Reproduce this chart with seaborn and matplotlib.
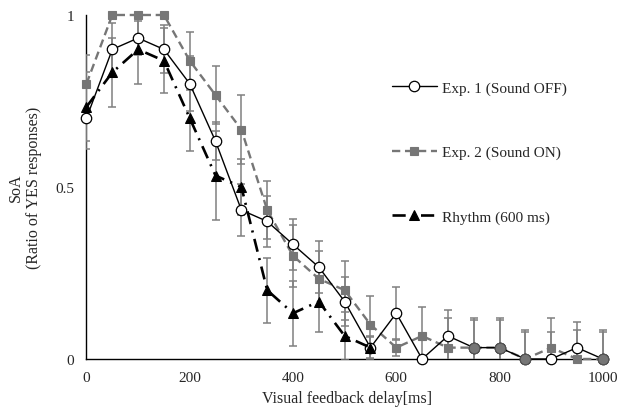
import matplotlib
matplotlib.use("Agg")
import matplotlib.pyplot as plt
import numpy as np
import pandas as pd
import seaborn as sns

# Data
delay = [0, 50, 100, 150, 200, 250, 300, 350, 400, 450, 500,
         550, 600, 650, 700, 750, 800, 850, 900, 950, 1000]
exp1 = [0.70, 0.90, 0.933, 0.90, 0.80, 0.633, 0.433, 0.40, 0.333, 0.267, 0.167,
        0.033, 0.133, 0.0, 0.067, 0.033, 0.033, 0.0, 0.0, 0.033, 0.0]
exp1_err = [0.09, 0.076, 0.05, 0.07, 0.08, 0.055, 0.075, 0.075, 0.075, 0.076, 0.07,
            0.033, 0.077, 0.0, 0.075, 0.08, 0.08, 0.078, 0.078, 0.075, 0.078]
exp2 = [0.80, 1.0, 1.0, 1.0, 0.867, 0.767, 0.667, 0.433, 0.30, 0.233, 0.20,
        0.10, 0.033, 0.067, 0.033, 0.033, 0.033, 0.0, 0.033, 0.0, 0.0]
exp2_err = [0.085, 0.0, 0.0, 0.0, 0.085, 0.085, 0.10, 0.085, 0.09, 0.08, 0.086,
            0.084, 0.025, 0.085, 0.086, 0.085, 0.085, 0.084, 0.085, 0.084, 0.084]
rhythm_delay = [0, 50, 100, 150, 200, 250, 300, 350, 400, 450, 500, 550]
rhythm = [0.733, 0.833, 0.90, 0.867, 0.70, 0.533, 0.50, 0.20, 0.133, 0.167, 0.067, 0.033]
rhythm_err = [0.10, 0.10, 0.10, 0.095, 0.095, 0.13, 0.08, 0.095, 0.095, 0.09, 0.07, 0.03]

labels = ["Exp. 1 (Sound OFF)", "Exp. 2 (Sound ON)", "Rhythm (600 ms)"]

sns.set_theme(style="white")
plt.rcParams["font.family"] = ["Liberation Serif", "DejaVu Serif"]
plt.rcParams["font.size"] = 11

GREY = "#767676"
ERR_GREY = "#808080"

fig = plt.figure(figsize=(6.19, 4.10), dpi=100)
ax = fig.add_axes([0.1397, 0.122, 0.8425, 0.839])

# error bars (grey, under the lines; clipped at 0)
for xs, ys, es in [(delay, exp1, exp1_err), (delay, exp2, exp2_err),
                   (rhythm_delay, rhythm, rhythm_err)]:
    ax.errorbar(xs, ys, yerr=es, fmt="none", ecolor=ERR_GREY, elinewidth=1.1,
                capsize=3, capthick=1.1, zorder=1)

sns.lineplot(x=delay, y=exp2, ax=ax, color=GREY, lw=1.7,
             linestyle=(0, (3.5, 2)), marker="s", markersize=6,
             markerfacecolor=GREY, markeredgecolor=GREY, markeredgewidth=0.8,
             errorbar=None, label=labels[1], zorder=2, clip_on=False)
sns.lineplot(x=delay, y=exp1, ax=ax, color="black", lw=1.0,
             marker="o", markersize=7.5, markerfacecolor="white",
             markeredgecolor="black", markeredgewidth=0.9,
             errorbar=None, label=labels[0], zorder=3, clip_on=False)
sns.lineplot(x=rhythm_delay, y=rhythm, ax=ax, color="black", lw=1.9,
             linestyle=(0, (5, 2.5, 0.8, 2.5)), marker="^", markersize=7,
             markerfacecolor="black", markeredgecolor="black",
             errorbar=None, label=labels[2], zorder=4, clip_on=False)

# where both experiments coincide the circle shows grey
same = np.isclose(exp1, exp2)
ax.scatter(np.array(delay)[same], np.array(exp1)[same], s=58, marker="o",
           color=GREY, edgecolors="#555555", linewidths=0.8, zorder=3.5,
           clip_on=False)

ax.set_xlim(0, 1010)
ax.set_ylim(0, 1)
ax.set_xticks([0, 200, 400, 600, 800, 1000])
ax.set_yticks([0, 0.5, 1])
ax.set_yticklabels(["0", "0.5", "1"])
ax.tick_params(length=0, pad=9, labelsize=11)

for side in ["top", "right"]:
    ax.spines[side].set_visible(False)
for side in ["left", "bottom"]:
    ax.spines[side].set_color("black")
    ax.spines[side].set_linewidth(1.0)
    ax.spines[side].set_zorder(0.5)

ax.set_xlabel("Visual feedback delay[ms]", fontsize=11.5, labelpad=4)
ax.set_ylabel("SoA\n(Ratio of YES responses)", fontsize=11.5, labelpad=9,
              linespacing=1.25)

handles, names = ax.get_legend_handles_labels()
by_name = dict(zip(names, handles))
ax.legend([by_name[l] for l in labels], labels, loc="upper left",
          bbox_to_anchor=(0.571, 0.830), frameon=False, borderpad=0,
          handlelength=2.95, handletextpad=0.3, labelspacing=3.3, fontsize=11)

fig.savefig("out.png", dpi=100)
